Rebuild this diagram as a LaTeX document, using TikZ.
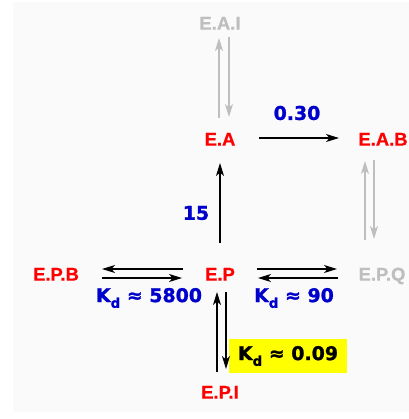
\documentclass[tikz,border=0pt]{standalone}
\usepackage{fontspec}
\setmainfont{DejaVu Sans}
\newfontfamily\speciesfont{Liberation Sans}[BoldFeatures={FakeBold=0.8}]
\newfontfamily\ratefont{DejaVu Sans}[BoldFeatures={FakeBold=1.2}]
\usetikzlibrary{arrows.meta,calc}
\definecolor{panelgray}{HTML}{FAFAFA}
\definecolor{rateblue}{HTML}{0000CC}
\definecolor{faded}{HTML}{BEBEBE}
\definecolor{hilite}{HTML}{FFFF00}
% dissociation constant K_d with a lowered, smaller d
\newcommand\kdsym{K\raisebox{-0.3em}{\fontsize{13.5}{14}\selectfont d}}
\begin{document}
\begin{tikzpicture}[x=1bp,y=-1bp,
  species/.style={font=\speciesfont\bfseries\fontsize{18.5}{20}\selectfont, text=red,
    inner sep=0pt, text height=13.2bp, text depth=0bp},
  inactive/.style={species, text=faded},
  rate/.style={font=\ratefont\bfseries\fontsize{19}{21}\selectfont, text=rateblue,
    inner sep=0pt},
  rxn/.style={-{Stealth[length=13bp,width=8bp,inset=3.5bp]}, line width=1.3bp, draw=black},
  fadedrxn/.style={rxn, draw=faded, -{Stealth[length=13bp,width=8bp,inset=3.5bp,color=faded]}}]

% canvas and panel
\fill[white] (0,0) rectangle (409,419);
\fill[panelgray] (13,2) rectangle (409,412);

% enzyme species
\node[inactive] (EAI) at (220,23)  {E.A.I};
\node[species]  (EA)  at (220,139) {E.A};
\node[species]  (EAB) at (383,139) {E.A.B};
\node[species]  (EPB) at (56,274)  {E.P.B};
\node[species]  (EP)  at (220,274) {E.P};
\node[inactive] (EPQ) at (382,274) {E.P.Q};
\node[species]  (EPI) at (220,392) {E.P.I};

% rate and equilibrium labels
\node[rate] (k030) at (297,113) {0.30};
\node[rate] (k15)  at (196,213) {15};
\node[rate] (kdB)  at (149,298) {\kdsym{} ≈ 5800};
\node[rate] (kdQ)  at (294,298) {\kdsym{} ≈ 90};
\node[rate, text=black, fill=hilite, minimum width=118bp, minimum height=34bp]
  (kdI) at (288,356) {\kdsym{} ≈ 0.09};

% E.A <-> E.A.I (faded)
\draw[fadedrxn] ($(EA.center)+(-1,-21)$) -- ($(EAI.center)+(-1,15)$);
\draw[fadedrxn] ($(EAI.center)+(9,14)$) -- ($(EA.center)+(9,-22)$);

% E.A -> E.A.B
\draw[rxn] ($(EA.center)+(39,-1)$) -- ($(EAB.center)+(-44,-1)$);

% E.A.B <-> E.P.Q (faded)
\draw[fadedrxn] ($(EPQ.center)+(-17,-34)$) -- ($(EAB.center)+(-18,22)$);
\draw[fadedrxn] ($(EAB.center)+(-9,21)$) -- ($(EPQ.center)+(-8,-35)$);

% E.P -> E.A
\draw[rxn] ($(EP.center)+(0,-31)$) -- ($(EA.center)+(0,24)$);

% E.P <-> E.P.B
\draw[rxn] ($(EP.center)+(-37,-5)$) -- ($(EPB.center)+(46,-5)$);
\draw[rxn] ($(EPB.center)+(46,4)$) -- ($(EP.center)+(-38,4)$);

% E.P <-> E.P.Q (faded partner)
\draw[rxn] ($(EP.center)+(37,-5)$) -- ($(EPQ.center)+(-45,-5)$);
\draw[rxn] ($(EPQ.center)+(-44,4)$) -- ($(EP.center)+(38,4)$);

% E.P <-> E.P.I
\draw[rxn] ($(EPI.center)+(-3,-20)$) -- ($(EP.center)+(-3,18)$);
\draw[rxn] ($(EP.center)+(6,18)$) -- ($(EPI.center)+(6,-23)$);
\end{tikzpicture}
\end{document}
